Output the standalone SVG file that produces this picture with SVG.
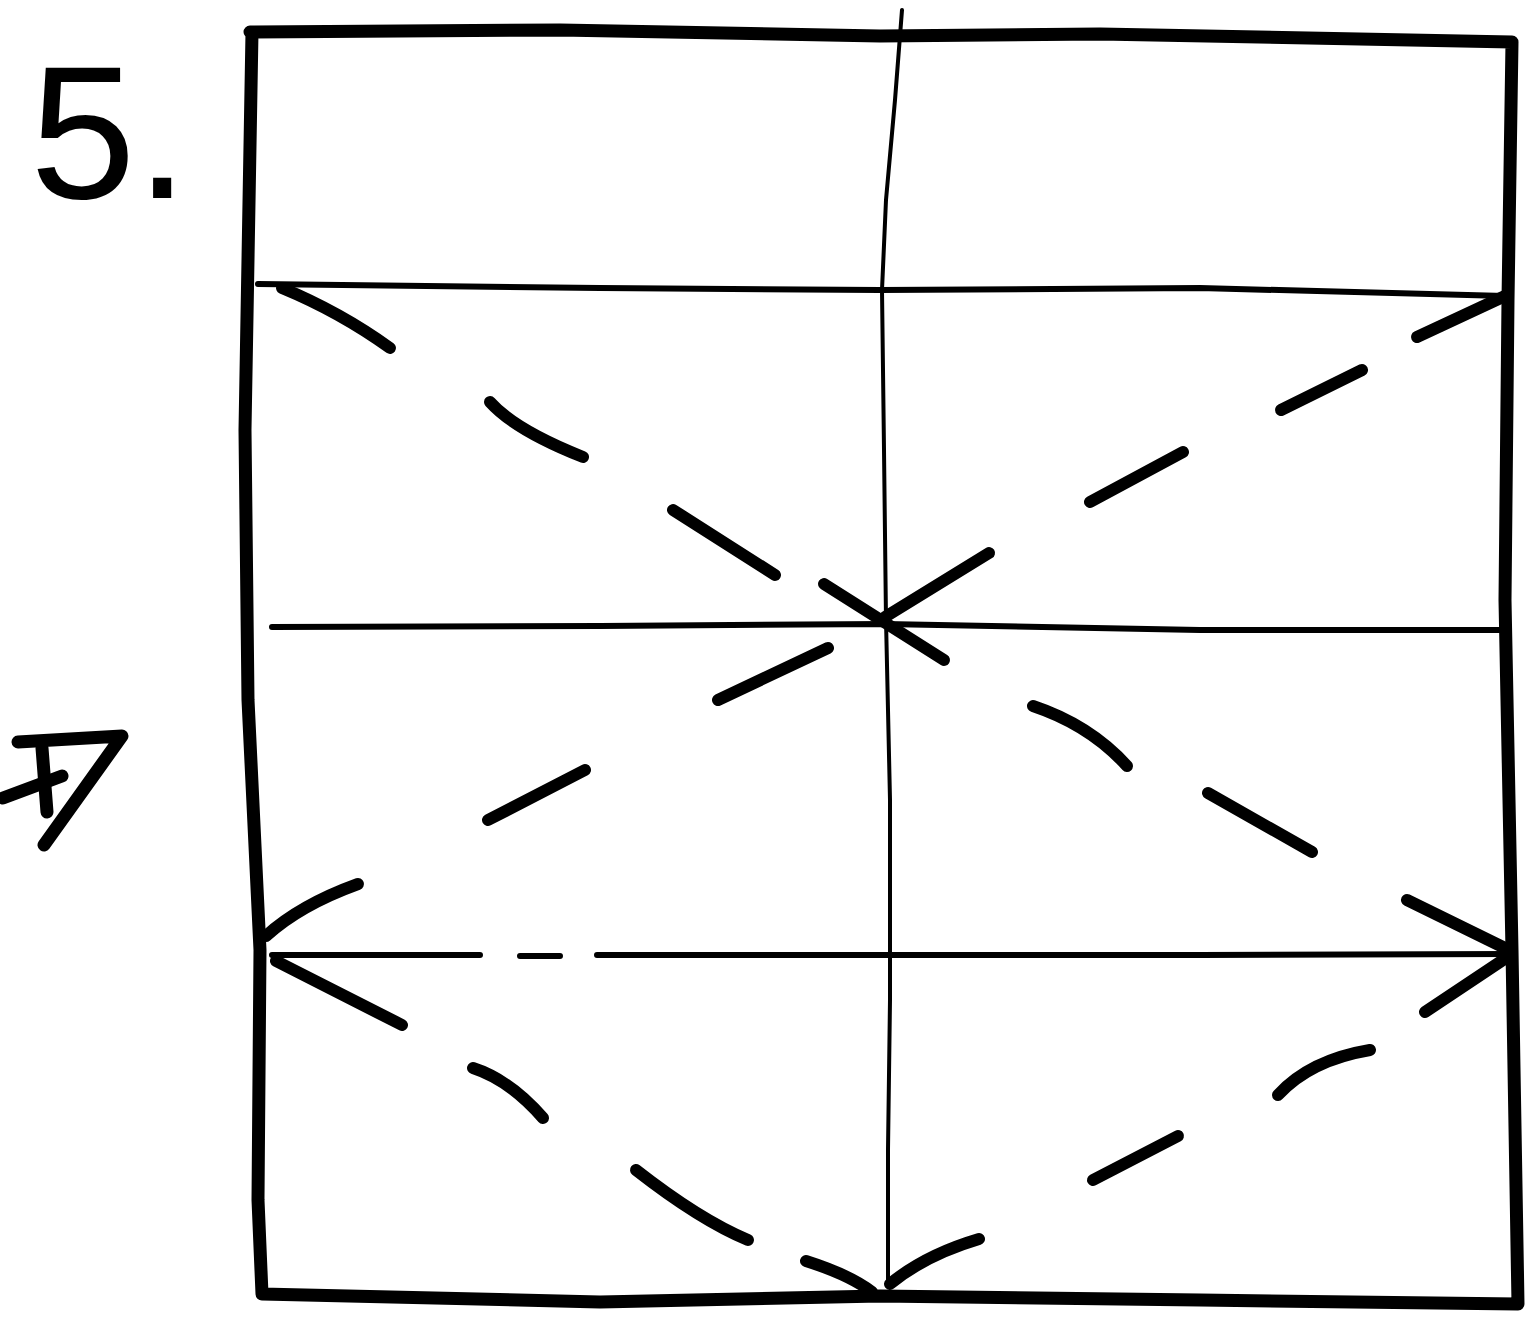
<svg xmlns="http://www.w3.org/2000/svg" width="1525" height="1317" viewBox="0 0 1525 1317">
<style>
.edge{fill:none;stroke:#000;stroke-width:13;stroke-linecap:round;stroke-linejoin:round}
.crease{fill:none;stroke:#000;stroke-width:6;stroke-linecap:round;stroke-linejoin:round}
.center{fill:none;stroke:#000;stroke-width:4;stroke-linecap:round;stroke-linejoin:round}
.dash{fill:none;stroke:#000;stroke-width:12;stroke-linecap:round;stroke-linejoin:round}
.sym{fill:none;stroke:#000;stroke-width:13;stroke-linecap:round;stroke-linejoin:round}
.label{font-family:"Liberation Sans",Arial,sans-serif;font-size:190px;fill:#000}
</style>
<rect width="1525" height="1317" fill="#fff"/>
<text class="label" x="30" y="198">5.</text>
<g id="fold-symbol">
<path class="sym" d="M18,742 L122,736 L44,845"/>
<path class="sym" d="M3,798 L62,776"/>
<path class="sym" d="M42,748 L47,812"/>
</g>
<g id="paper">
<path class="edge" d="M250,32 L560,30 L880,36 L1100,34 L1512,42 L1508,300 L1505,600 L1512,950 L1518,1304 L1200,1300 L880,1296 L600,1302 L262,1294 L258,1200 L260,950 L248,700 L245,430 L252,32 Z"/>
</g>
<g id="creases">
<path class="crease" d="M258,284 L600,288 L880,290 L1200,288 L1505,296"/>
<path class="crease" d="M272,627 L600,626 L885,624 L1200,630 L1500,630"/>
<path class="crease" d="M272,955 L480,955 M520,956 L560,956 M597,955 L890,955 L1200,955 L1510,954"/>
<path class="center" d="M902,10 L895,100 L886,200 L882,290 L884,450 L886,620 L890,800 L890,1000 L888,1150 L888,1285"/>
</g>
<g id="valley-folds">
<path class="dash" d="M282,288 Q340,312 390,348"/>
<path class="dash" d="M490,402 Q515,430 583,457"/>
<path class="dash" d="M673,510 L775,575"/>
<path class="dash" d="M824,584 L944,660"/>
<path class="dash" d="M1505,296 L1417,337"/>
<path class="dash" d="M1362,370 L1281,410"/>
<path class="dash" d="M1183,452 L1090,502"/>
<path class="dash" d="M989,553 L885,617"/>
<path class="dash" d="M828,648 L718,700"/>
<path class="dash" d="M585,770 L488,820"/>
<path class="dash" d="M358,884 Q300,905 266,936"/>
<path class="dash" d="M1033,706 Q1090,725 1127,766"/>
<path class="dash" d="M1208,793 L1312,852"/>
<path class="dash" d="M1407,900 L1509,950"/>
<path class="dash" d="M276,961 L402,1025"/>
<path class="dash" d="M473,1068 Q510,1080 543,1118"/>
<path class="dash" d="M636,1170 Q700,1220 748,1240"/>
<path class="dash" d="M806,1261 Q850,1275 872,1292"/>
<path class="dash" d="M1509,956 L1425,1012"/>
<path class="dash" d="M1370,1050 Q1310,1060 1278,1095"/>
<path class="dash" d="M1178,1136 L1093,1180"/>
<path class="dash" d="M979,1239 Q925,1255 890,1284"/>
</g>
</svg>
